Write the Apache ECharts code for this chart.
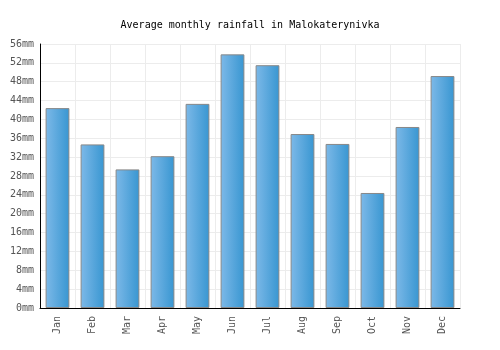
<!DOCTYPE html>
<html>
<head>
<meta charset="utf-8">
<script src="https://cdn.jsdelivr.net/npm/echarts@6/dist/echarts.min.js"></script>
<style>
  html, body { margin: 0; padding: 0; background: #fff; }
  #chart { width: 500px; height: 350px; }
</style>
</head>
<body>
<div id="chart"></div>
<script>
// monthly rainfall, mm
var months = ['Jan', 'Feb', 'Mar', 'Apr', 'May', 'Jun', 'Jul', 'Aug', 'Sep', 'Oct', 'Nov', 'Dec']
var rainfall = [42.4, 34.7, 29.4, 32.2, 43.3, 53.8, 51.5, 36.9, 34.8, 24.4, 38.4, 49.2]

var font = 'DejaVu Sans Mono'
var chart = echarts.init(document.getElementById('chart'))

var option = {
  animation: false,
  title: {
    text: 'Average monthly rainfall in Malokaterynivka',
    left: 'center',
    top: 15,
    textStyle: { fontFamily: font, fontSize: 10, fontWeight: 'normal', color: '#000' }
  },
  grid: { left: 40, right: 40, top: 44, bottom: 42 },
  xAxis: {
    type: 'category',
    data: months,
    axisLine: { lineStyle: { color: '#000' } },
    axisTick: { show: false },
    axisLabel: { rotate: 90, fontFamily: font, fontSize: 10, color: '#555', margin: 8 },
    splitLine: { show: true, lineStyle: { color: '#ececec' } }
  },
  yAxis: {
    type: 'value',
    min: 0,
    max: 56,
    interval: 4,
    axisLine: { show: true, lineStyle: { color: '#000' } },
    axisTick: { show: false },
    axisLabel: { formatter: '{value}mm', fontFamily: font, fontSize: 10, color: '#555', margin: 6 },
    splitLine: { lineStyle: { color: '#ececec' } }
  },
  series: [{
    type: 'bar',
    data: rainfall,
    barCategoryGap: '32%',
    itemStyle: {
      color: new echarts.graphic.LinearGradient(0, 0, 1, 0, [
        { offset: 0, color: '#7db9e8' },
        { offset: 1, color: '#3896d1' }
      ]),
      borderColor: '#888',
      borderWidth: 1
    }
  }]
}

chart.setOption(option)
</script>
</body>
</html>
